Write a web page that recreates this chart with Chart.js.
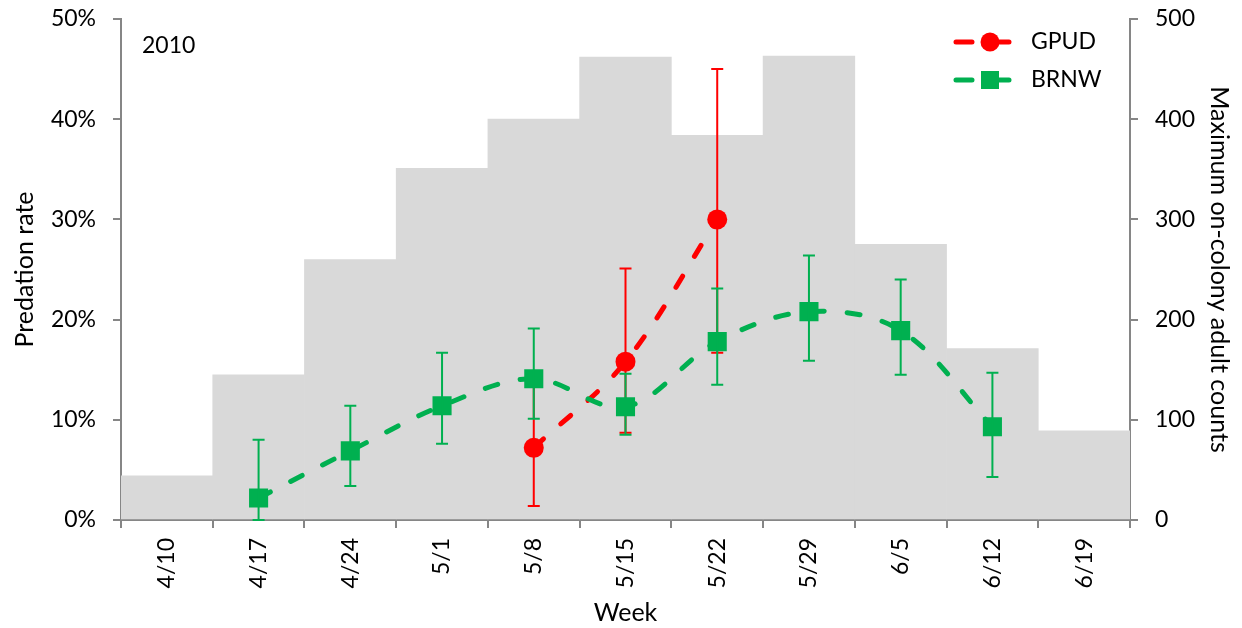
<!DOCTYPE html>
<html>
<head>
<meta charset="utf-8">
<title>Predation rate 2010</title>
<script src="https://cdn.jsdelivr.net/npm/chart.js@4.4.1/dist/chart.umd.min.js"></script>
<style>
  html, body { margin: 0; padding: 0; background: #ffffff; }
  #wrap { width: 1242px; height: 628px; }
</style>
</head>
<body>
<div id="wrap"><canvas id="chart" width="1242" height="628"></canvas></div>
<script>
// Weeks (x categories)
const weeks = ['4/10', '4/17', '4/24', '5/1', '5/8', '5/15', '5/22', '5/29', '6/5', '6/12', '6/19'];

// Maximum on-colony adult counts (gray bars, right axis)
const colonyCounts = [44, 145, 260, 351, 400, 462, 384, 463, 275, 171, 89];

// GPUD predation rate (%), with error bar ends
const gpudRate = [null, null, null, null, 7.2, 15.8, 30.0, null, null, null, null];
const gpudLow  = [null, null, null, null, 1.4, 8.7, 16.7, null, null, null, null];
const gpudHigh = [null, null, null, null, 13.5, 25.1, 45.0, null, null, null, null];

// BRNW predation rate (%), with error bar ends
const brnwRate = [null, 2.2, 6.9, 11.4, 14.1, 11.3, 17.8, 20.8, 18.9, 9.3, null];
const brnwLow  = [null, 0.0, 3.4, 7.6, 10.1, 8.5, 13.5, 15.9, 14.5, 4.3, null];
const brnwHigh = [null, 8.0, 11.4, 16.7, 19.1, 14.6, 23.1, 26.4, 24.0, 14.7, null];

// Axis ticks
const rateTicks = [0, 10, 20, 30, 40, 50];
const countTicks = [0, 100, 200, 300, 400, 500];

const RED = '#ff0000';
const GREEN = '#00b050';
const GRAY_BAR = '#d9d9d9';
const AXIS = '#868686';
const FONT = { family: 'Lato', size: 23 };
const TITLE_FONT = { family: 'Lato', size: 25 };

// Draws the error bars right after each line dataset so later series cover them
const errorBars = {
  id: 'errorBars',
  afterDatasetDraw(chart, args) {
    const ds = chart.data.datasets[args.index];
    if (!ds.errLow) return;
    const ctx = chart.ctx;
    const y = chart.scales.y;
    ctx.save();
    ctx.strokeStyle = ds.borderColor;
    ctx.lineWidth = 2;
    ctx.setLineDash([]);
    args.meta.data.forEach((pt, i) => {
      if (ds.data[i] == null) return;
      const top = y.getPixelForValue(ds.errHigh[i]);
      const bot = y.getPixelForValue(ds.errLow[i]);
      ctx.beginPath();
      ctx.moveTo(pt.x, top);
      ctx.lineTo(pt.x, bot);
      ctx.moveTo(pt.x - 6, top);
      ctx.lineTo(pt.x + 6, top);
      ctx.moveTo(pt.x - 6, bot);
      ctx.lineTo(pt.x + 6, bot);
      ctx.stroke();
    });
    ctx.restore();
  }
};

// Year label and the line + marker legend
const extras = {
  id: 'extras',
  afterDraw(chart) {
    const ctx = chart.ctx;
    const area = chart.chartArea;
    ctx.save();
    ctx.font = `${FONT.size}px ${FONT.family}`;
    ctx.fillStyle = '#000';
    ctx.textBaseline = 'middle';
    ctx.fillText('2010', area.left + 21, 46);

    const items = chart.data.datasets.filter(d => d.type === 'line');
    items.forEach((ds, k) => {
      const cy = 42 + k * 38;
      ctx.strokeStyle = ds.borderColor;
      ctx.lineWidth = 5;
      ctx.lineCap = 'round';
      ctx.beginPath();
      ctx.moveTo(956, cy);
      ctx.lineTo(972, cy);
      ctx.moveTo(994, cy);
      ctx.lineTo(1009, cy);
      ctx.stroke();
      ctx.fillStyle = ds.borderColor;
      if (ds.pointStyle === 'rect') {
        ctx.fillRect(981, cy - 9, 18, 18);
      } else {
        ctx.beginPath();
        ctx.arc(990, cy, 9.5, 0, Math.PI * 2);
        ctx.fill();
      }
      ctx.fillStyle = '#000';
      ctx.fillText(ds.label, 1031, cy);
    });
    ctx.restore();
  }
};

new Chart(document.getElementById('chart'), {
  data: {
    labels: weeks,
    datasets: [
      {
        type: 'line',
        label: 'GPUD',
        data: gpudRate,
        errLow: gpudLow,
        errHigh: gpudHigh,
        yAxisID: 'y',
        borderColor: RED,
        backgroundColor: RED,
        borderWidth: 5,
        borderDash: [13, 23],
        borderCapStyle: 'round',
        tension: 0.35,
        pointStyle: 'circle',
        pointRadius: 10,
        pointBorderWidth: 0,
        order: 2
      },
      {
        type: 'line',
        label: 'BRNW',
        data: brnwRate,
        errLow: brnwLow,
        errHigh: brnwHigh,
        yAxisID: 'y',
        borderColor: GREEN,
        backgroundColor: GREEN,
        borderWidth: 5,
        borderDash: [13, 23],
        borderCapStyle: 'round',
        tension: 0.35,
        pointStyle: 'rect',
        pointRadius: 13.5,
        pointBorderWidth: 0,
        order: 1
      },
      {
        type: 'bar',
        label: 'Counts',
        data: colonyCounts,
        yAxisID: 'y1',
        backgroundColor: GRAY_BAR,
        borderWidth: 0,
        barPercentage: 1,
        categoryPercentage: 1,
        order: 3
      }
    ]
  },
  options: {
    responsive: false,
    animation: false,
    layout: { padding: { top: 19, left: 0, right: 0, bottom: 0 } },
    plugins: {
      legend: { display: false },
      tooltip: { enabled: false }
    },
    scales: {
      x: {
        type: 'category',
        offset: true,
        grid: {
          offset: true,
          drawOnChartArea: false,
          drawTicks: true,
          tickLength: 8,
          color: AXIS,
          lineWidth: 2
        },
        border: { color: AXIS, width: 2 },
        ticks: {
          minRotation: 90,
          maxRotation: 90,
          padding: 10,
          color: '#000',
          font: FONT
        },
        title: {
          display: true,
          text: 'Week',
          color: '#000',
          font: TITLE_FONT,
          padding: { top: 0, bottom: 0 }
        },
        afterFit: s => { s.height = 108; s.paddingLeft = 0; s.paddingRight = 0; }
      },
      y: {
        position: 'left',
        min: 0,
        max: 50,
        afterBuildTicks: s => { s.ticks = rateTicks.map(v => ({ value: v })); },
        grid: { drawOnChartArea: false, tickLength: 8, color: AXIS, lineWidth: 2 },
        border: { color: AXIS, width: 2 },
        ticks: {
          callback: v => v + '%',
          padding: 17,
          color: '#000',
          font: FONT
        },
        title: {
          display: true,
          text: 'Predation rate',
          color: '#000',
          font: TITLE_FONT,
          padding: { top: 10, bottom: 0 }
        },
        afterFit: s => { s.width = 121; s.paddingTop = 0; s.paddingBottom = 0; }
      },
      y1: {
        position: 'right',
        min: 0,
        max: 500,
        afterBuildTicks: s => { s.ticks = countTicks.map(v => ({ value: v })); },
        grid: { drawOnChartArea: false, tickLength: 8, color: AXIS, lineWidth: 2 },
        border: { color: AXIS, width: 2 },
        ticks: {
          padding: 17,
          color: '#000',
          font: FONT
        },
        title: {
          display: true,
          text: 'Maximum on-colony adult counts',
          color: '#000',
          font: TITLE_FONT,
          padding: { top: 8, bottom: 0 }
        },
        afterFit: s => { s.width = 112; s.paddingTop = 0; s.paddingBottom = 0; }
      }
    }
  },
  plugins: [errorBars, extras]
});
</script>
</body>
</html>
